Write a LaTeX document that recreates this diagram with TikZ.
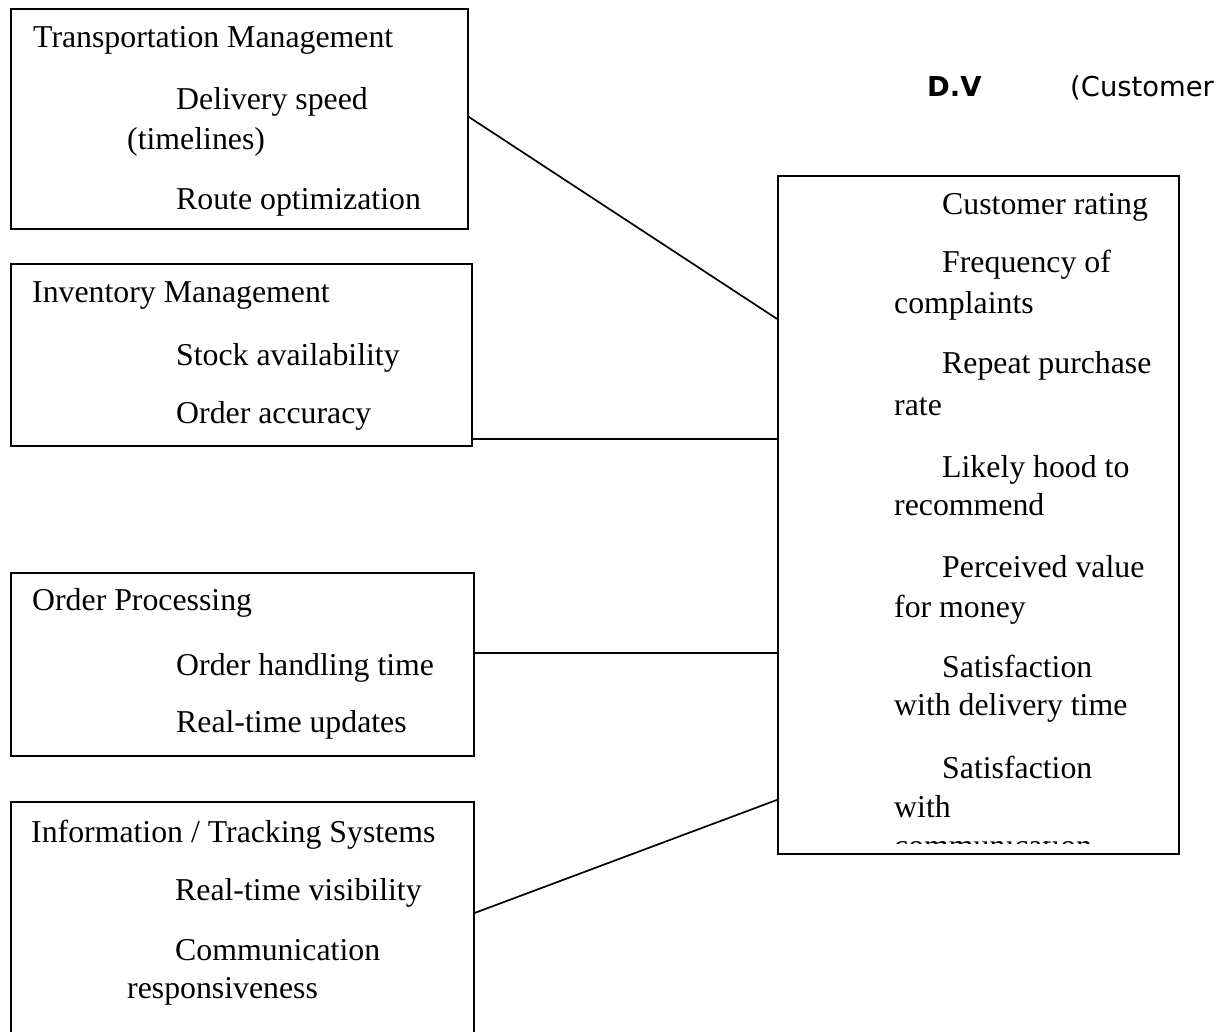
\documentclass[tikz,border=0pt]{standalone}
\usepackage{fontspec}
\setmainfont{Liberation Serif}
\newfontfamily\dvfont{DejaVu Sans}
\usepackage{tikz}
\usetikzlibrary{positioning}

\begin{document}
\begin{tikzpicture}[
  x=1pt, y=-1pt,
  box/.style={
    rectangle,
    draw=black,
    line width=1.8pt,
    inner sep=0pt,
    anchor=north west
  },
  txt/.style={
    anchor=base west,
    inner sep=0pt,
    font=\fontsize{31.8}{38}\selectfont
  },
  dvtxt/.style={
    anchor=base west,
    inner sep=0pt,
    font=\dvfont\fontsize{27.4}{32}\selectfont
  },
  link/.style={
    line width=1.7pt,
    draw=black
  }
]
\useasboundingbox (0,0) rectangle (1226,1032);
\clip (0,0) rectangle (1226,1032);

% independent variable boxes
\node[box, minimum width=457pt, minimum height=220pt] (tm) at (10,8) {};
\node[box, minimum width=461pt, minimum height=182pt] (inv) at (10,263) {};
\node[box, minimum width=463pt, minimum height=183pt] (op) at (10,572) {};
\node[box, minimum width=463pt, minimum height=239pt] (its) at (10,801) {};

% dependent variable box
\node[box, minimum width=401pt, minimum height=678pt] (cs) at (777,175) {};

% title
\node[dvtxt] (dv) at (927,97) {\bfseries D.V};
\node[dvtxt] (dvname) at (1070,97) {(Customer};

% Transportation Management
\node[txt] (tm1) at (33,48) {Transportation Management};
\node[txt] (tm2) at (176,110) {Delivery speed};
\node[txt] (tm3) at (127,150) {(timelines)};
\node[txt] (tm4) at (176,210) {Route optimization};

% Inventory Management
\node[txt] (inv1) at (32,302) {Inventory Management};
\node[txt] (inv2) at (176,365) {Stock availability};
\node[txt] (inv3) at (176,423) {Order accuracy};

% Order Processing
\node[txt] (op1) at (32,610) {Order Processing};
\node[txt] (op2) at (176,675) {Order handling time};
\node[txt] (op3) at (176,732) {Real-time updates};

% Information / Tracking Systems
\node[txt] (its1) at (31,842) {Information / Tracking Systems};
\node[txt] (its2) at (175,900) {Real-time visibility};
\node[txt] (its3) at (175,960) {Communication};
\node[txt] (its4) at (127,998) {responsiveness};

% customer satisfaction items
\node[txt] (cs1) at (942,215) {Customer rating};
\node[txt] (cs2) at (942,273) {Frequency of};
\node[txt] (cs3) at (894,313) {complaints};
\node[txt] (cs4) at (942,373) {Repeat purchase};
\node[txt] (cs5) at (894,415) {rate};
\node[txt] (cs6) at (942,477) {Likely hood to};
\node[txt] (cs7) at (894,515) {recommend};
\node[txt] (cs8) at (942,577) {Perceived value};
\node[txt] (cs9) at (894,617) {for money};
\node[txt] (cs10) at (942,677) {Satisfaction};
\node[txt] (cs11) at (894,715) {with delivery time};
\node[txt] (cs12) at (942,778) {Satisfaction};
\node[txt] (cs13) at (894,817) {with};
\begin{scope}
  \clip (890,841.5) rectangle (1170,843.6);
  \node[txt] (cs14) at (894,856) {communication};
\end{scope}

% links
\draw[link] ([yshift=2pt]tm.east) -- ([yshift=196pt]cs.west);
\draw[link] ([yshift=-84pt]inv.east) -- ([yshift=76pt]cs.west);
\draw[link] ([yshift=11.5pt]op.east) -- ([yshift=-138pt]cs.west);
\draw[link] ([yshift=8.5pt]its.east) -- ([yshift=-285pt]cs.west);

\end{tikzpicture}
\end{document}
